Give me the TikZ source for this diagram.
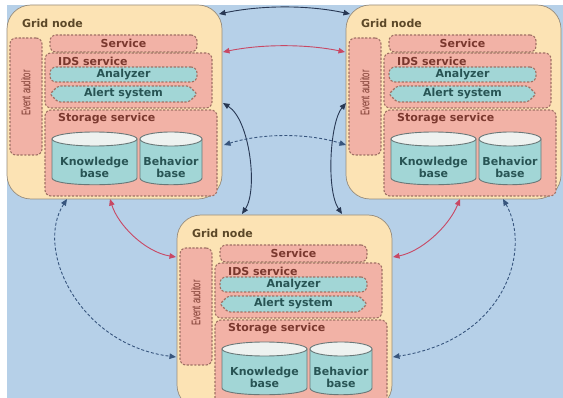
\documentclass[tikz,border=0pt]{standalone}
\usepackage{fontspec}
\setmainfont{DejaVu Sans}
\newfontfamily\eafont{Liberation Sans}
\usetikzlibrary{arrows.meta,calc}
\definecolor{bgblue}{RGB}{182,208,232}
\definecolor{cream}{RGB}{252,227,180}
\definecolor{pinkf}{RGB}{242,178,166}
\definecolor{cyanf}{RGB}{162,214,214}
\definecolor{dashc}{RGB}{160,112,100}
\definecolor{edgec}{RGB}{150,140,125}
\definecolor{gridtxt}{RGB}{92,72,40}
\definecolor{redtxt}{RGB}{122,56,46}
\definecolor{tealtxt}{RGB}{40,84,84}
\definecolor{cyledge}{RGB}{105,120,120}
\definecolor{cyltop}{RGB}{238,242,240}
\definecolor{navy}{RGB}{40,56,84}
\definecolor{dashnavy}{RGB}{55,85,125}
\definecolor{redline}{RGB}{200,72,100}
\tikzset{
  gridbox/.style={draw=edgec, line width=0.7pt, fill=cream, rounded corners=24pt,
    minimum width=215pt, minimum height=194pt, anchor=north west, inner sep=0pt, outer sep=0pt},
  dbox/.style={draw=dashc, line width=1.1pt, dash pattern=on 2.2pt off 1.6pt,
    rounded corners=6pt, anchor=north west, inner sep=0pt, outer sep=0pt},
  pinkbox/.style={dbox, fill=pinkf},
  cyanbox/.style={dbox, fill=cyanf},
  lbl/.style={font=\fontsize{11}{12}\selectfont\bfseries, inner sep=0pt},
  gridlbl/.style={lbl, text=gridtxt, anchor=west},
  redlbl/.style={lbl, text=redtxt},
  teallbl/.style={lbl, text=tealtxt, align=center},
  ealbl/.style={font=\eafont\fontsize{12.5}{13}\selectfont, text=redtxt, rotate=90, inner sep=0pt},
  cylbody/.style={fill=cyanf, draw=cyledge, line width=0.9pt},
  cyltopst/.style={fill=cyltop, draw=cyledge, line width=0.9pt},
  tipboth/.style={{Triangle[length=6.5pt,width=5.5pt]}-{Triangle[length=6.5pt,width=5.5pt]}},
  solidlink/.style={draw=navy, line width=0.9pt, tipboth},
  redlink/.style={draw=redline, line width=0.9pt, tipboth},
  dashlink/.style={draw=dashnavy, line width=0.9pt, dash pattern=on 3pt off 2pt, tipboth}
}
\newcommand\gridnode[3]{%
\begin{scope}[shift={(#2,#3)}, name prefix=#1-]
  \node[gridbox] (box) at (0,0) {};
  \node[gridlbl] (title) at (15,18.5) {Grid node};
  \node[pinkbox, minimum width=32pt, minimum height=117pt] (ea) at (3,33) {};
  \node[ealbl] (eat) at (19,88) {\scalebox{0.62}[1]{Event auditor}};
  \node[pinkbox, minimum width=147pt, minimum height=17pt] (svc) at (43,30) {};
  \node[redlbl] (svct) at (116.5,38.5) {Service};
  \node[pinkbox, minimum width=167pt, minimum height=55pt] (ids) at (38,48) {};
  \node[redlbl, anchor=west] (idst) at (51,56) {IDS service};
  \node[cyanbox, minimum width=147pt, minimum height=15pt] (an) at (43,62) {};
  \node[teallbl] (ant) at (116.5,69.5) {Analyzer};
  \draw[dbox, fill=cyanf, rounded corners=2pt] (43,89) -- (51,81) -- (182,81) -- (190,89) -- (182,97) -- (51,97) -- cycle;
  \node[teallbl] (alt) at (116.5,89) {Alert system};
  \node[pinkbox, minimum width=172pt, minimum height=86pt] (st) at (38,105) {};
  \node[redlbl, anchor=west] (stt) at (51,114) {Storage service};
  \draw[cylbody] (45,134) -- (45,173) .. controls (45,182) and (130,182) .. (130,173) -- (130,134) -- cycle;
  \draw[cyltopst] (87.5,134) ellipse [x radius=42.5pt, y radius=7pt];
  \node[teallbl] (kb) at (87.5,162) {Knowledge\\base};
  \draw[cylbody] (133,134) -- (133,173) .. controls (133,182) and (195,182) .. (195,173) -- (195,134) -- cycle;
  \draw[cyltopst] (164,134) ellipse [x radius=31pt, y radius=7pt];
  \node[teallbl] (bb) at (164,162) {Behavior\\base};
\end{scope}}
\begin{document}
\begin{tikzpicture}[x=1pt,y=-1pt]
\useasboundingbox (0,0) rectangle (563,398);
\clip (0,0) rectangle (563,398);
\fill[white] (0,0) rectangle (563,398);
\fill[bgblue] (7,5) rectangle (563,398);
\gridnode{tl}{7}{5}
\gridnode{tr}{346}{5}
\gridnode{bt}{177}{215}
% endpoints on node borders
\coordinate (t1) at ($(tl-box.north east)+(-3,9)$);
\coordinate (t2) at ($(tr-box.north west)+(4,9)$);
\coordinate (r1) at ($(tl-box.north east)+(1,47)$);
\coordinate (r2) at ($(tr-box.north west)+(-1,47)$);
\coordinate (s1) at ($(tl-box.east)+(1,1)$);
\coordinate (s2) at ($(bt-box.north west)+(65,-1)$);
\coordinate (s3) at ($(tr-box.west)+(0,1)$);
\coordinate (s4) at ($(bt-box.north east)+(-50,-1)$);
\coordinate (d1) at ($(tl-box.east)+(2,43)$);
\coordinate (d2) at ($(tr-box.west)+(0,43)$);
\coordinate (lr1) at ($(tl-box.south west)+(103,0)$);
\coordinate (lr2) at ($(bt-box.west)+(-1,-55)$);
\coordinate (rr1) at ($(tr-box.south west)+(114,0)$);
\coordinate (rr2) at ($(bt-box.east)+(1,-55)$);
\coordinate (ld1) at ($(tl-box.south west)+(60,0)$);
\coordinate (ld2) at ($(bt-box.west)+(-1,45)$);
\coordinate (rd1) at ($(tr-box.south west)+(157,0)$);
\coordinate (rd2) at ($(bt-box.east)+(1,45)$);
% connectors
\draw[solidlink] (t1) .. controls (262,5) and (308,5) .. (t2);
\draw[redlink] (r1) .. controls (262,44) and (306,44) .. (r2);
\draw[solidlink] (s1) .. controls (250,120) and (258,190) .. (s2);
\draw[solidlink] (s3) .. controls (330,122) and (326,190) .. (s4);
\draw[dashlink] (d1) .. controls (262,133) and (308,133) .. (d2);
\draw[redlink] (lr1) .. controls (118,225) and (145,252) .. (lr2);
\draw[redlink] (rr1) .. controls (448,228) and (420,252) .. (rr2);
\draw[dashlink] (ld1) .. controls (34,250) and (80,345) .. (ld2);
\draw[dashlink] (rd1) .. controls (532,250) and (505,340) .. (rd2);
\end{tikzpicture}
\end{document}
